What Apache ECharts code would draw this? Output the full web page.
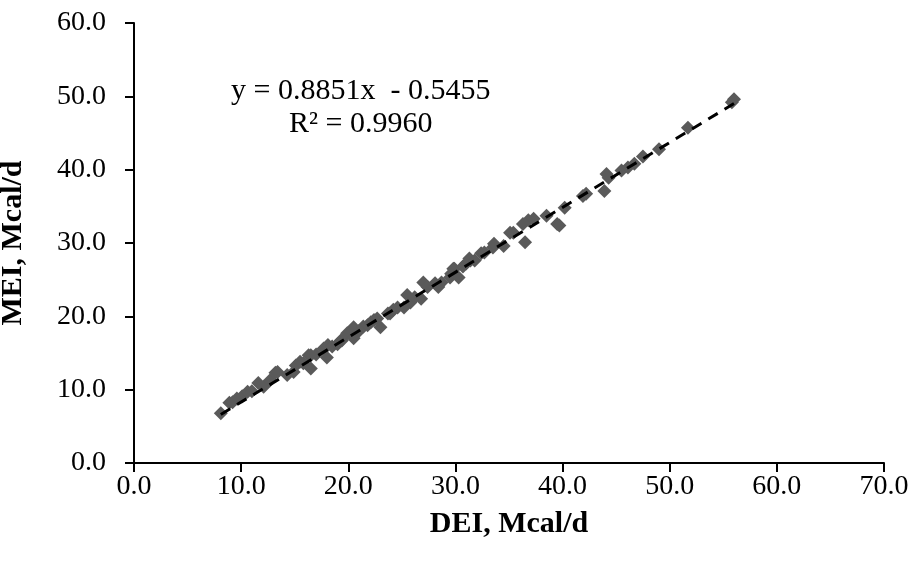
<!DOCTYPE html>
<html>
<head>
<meta charset="utf-8">
<script src="https://cdn.jsdelivr.net/npm/echarts@6/dist/echarts.min.js"></script>
<style>
  html, body { margin: 0; padding: 0; background: #fff; }
  #chart { width: 917px; height: 562px; }
</style>
</head>
<body>
<div id="chart"></div>
<script>
// DEI (x) values
const dei = [
  8.1, 8.9, 9.2, 9.6, 10.1, 10.6, 11.0, 11.6, 12.1, 12.7,
  13.2, 13.4, 14.3, 14.9, 15.1, 15.5, 15.8, 16.5, 16.3, 16.5,
  17.0, 17.7, 18.0, 18.1, 18.5, 19.0, 19.3, 19.4, 19.9, 20.2,
  20.5, 20.5, 20.5, 21.0, 21.4, 21.8, 22.1, 22.4, 22.7, 23.0,
  23.7, 23.9, 24.2, 24.6, 25.2, 25.5, 25.8, 26.2, 26.8, 27.0,
  27.4, 28.1, 28.4, 28.7, 29.5, 29.6, 29.8, 29.9, 30.3, 30.7,
  31.0, 31.3, 31.4, 31.8, 32.4, 32.7, 33.5, 33.6, 34.5, 35.1,
  35.4, 36.3, 36.5, 36.8, 37.3, 38.5, 39.5, 39.7, 40.2, 41.9,
  42.2, 43.9, 44.1, 44.3, 45.5, 46.1, 46.7, 47.5, 49.0, 51.7,
  55.8, 56.0
]
// MEI (y) values
const mei = [
  6.8, 8.2, 8.3, 8.8, 9.1, 9.7, 9.8, 10.9, 10.4, 11.3,
  12.3, 12.4, 12.0, 12.4, 13.3, 13.8, 13.6, 12.9, 14.7, 14.7,
  14.8, 15.6, 14.4, 16.1, 15.9, 16.2, 16.7, 16.7, 17.7, 17.8,
  18.5, 18.1, 17.0, 18.0, 18.6, 18.8, 19.2, 19.5, 19.7, 18.5,
  20.4, 20.4, 20.9, 21.2, 21.2, 22.9, 21.9, 22.6, 22.4, 24.6,
  24.0, 24.5, 24.0, 24.6, 25.3, 25.8, 26.5, 26.5, 25.3, 26.8,
  27.2, 27.9, 27.6, 27.6, 28.6, 28.7, 29.4, 29.9, 29.6, 31.4,
  31.4, 32.6, 30.1, 33.1, 33.3, 33.7, 32.6, 32.4, 34.8, 36.4,
  36.7, 37.1, 39.4, 38.9, 39.9, 40.3, 40.8, 41.8, 42.8, 45.7,
  49.2, 49.6
]
// linear trend fitted in the original
const slope = 0.8851
const intercept = -0.5455
const r2 = 0.9960

const xTicks = [0, 10, 20, 30, 40, 50, 60, 70]
const yTicks = [0, 10, 20, 30, 40, 50, 60]

const points = dei.map((x, i) => [x, mei[i]])
const xMin = Math.min(...dei)
const xMax = Math.max(...dei)
const trend = [xMin, xMax].map(x => [x, slope * x + intercept])

const serif = '"Liberation Serif", "Times New Roman", serif'

const chart = echarts.init(document.getElementById('chart'))

const axisCommon = {
  type: 'value',
  splitLine: { show: false },
  axisLine: { show: true, onZero: false, lineStyle: { color: '#000', width: 2 } },
  axisTick: { show: true, inside: false, length: 9, lineStyle: { color: '#000', width: 2 } },
  axisLabel: {
    color: '#000',
    fontFamily: serif,
    fontSize: 28,
    formatter: v => v.toFixed(1)
  }
}

const option = {
  animation: false,
  backgroundColor: '#fff',
  grid: { left: 134, right: 33, top: 23, bottom: 99, outerBoundsMode: 'none' },
  xAxis: Object.assign({}, axisCommon, {
    min: xTicks[0],
    max: xTicks[xTicks.length - 1],
    interval: 10,
    name: 'DEI, Mcal/d',
    nameLocation: 'middle',
    nameGap: 46,
    nameTextStyle: { color: '#000', fontFamily: serif, fontSize: 30, fontWeight: 'bold' },
    axisLabel: Object.assign({}, axisCommon.axisLabel, { margin: 10 })
  }),
  yAxis: Object.assign({}, axisCommon, {
    min: yTicks[0],
    max: yTicks[yTicks.length - 1],
    interval: 10,
    name: 'MEI, Mcal/d',
    nameLocation: 'middle',
    nameGap: 106,
    nameTextStyle: { color: '#000', fontFamily: serif, fontSize: 30, fontWeight: 'bold' },
    axisLabel: Object.assign({}, axisCommon.axisLabel, { margin: 28 })
  }),
  graphic: [
    {
      type: 'text',
      left: 231,
      top: 76,
      style: {
        text: 'y = 0.8851x  - 0.5455',
        fill: '#000',
        font: '30px ' + serif
      }
    },
    {
      type: 'text',
      left: 289,
      top: 109,
      style: {
        text: 'R² = ' + r2.toFixed(4),
        fill: '#000',
        font: '30px ' + serif
      }
    }
  ],
  series: [
    {
      type: 'scatter',
      data: points,
      symbol: 'diamond',
      symbolSize: 14,
      itemStyle: { color: '#5a5a5a', opacity: 1 },
      z: 2
    },
    {
      type: 'line',
      data: trend,
      symbol: 'none',
      lineStyle: { color: '#000', width: 3, type: [11, 8] },
      z: 3
    }
  ]
}

chart.setOption(option)
</script>
</body>
</html>
